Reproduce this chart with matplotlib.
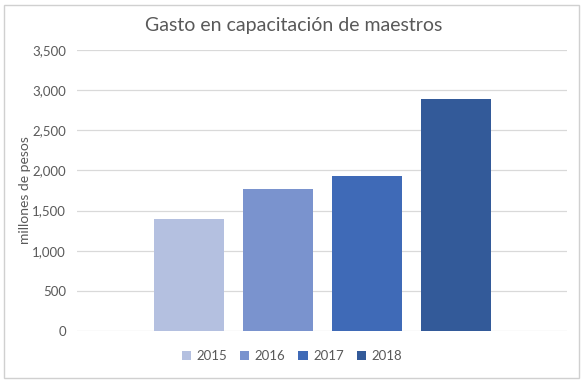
import matplotlib
matplotlib.use("Agg")
import matplotlib.pyplot as plt
from matplotlib.patches import Rectangle, Patch

# datos
years = ["2015", "2016", "2017", "2018"]
gasto = [1400, 1770, 1935, 2890]
colores = ["#B4C0E0", "#7A93CE", "#3F6AB7", "#335A99"]
yticks = [0, 500, 1000, 1500, 2000, 2500, 3000, 3500]

plt.rcParams['font.family'] = ['Lato', 'DejaVu Sans']
txt = "#595959"

fig = plt.figure(figsize=(5.87, 3.82), dpi=100)
ax = fig.add_axes([77/587, 1-331/382, 490/587, 281/382])

pos = list(range(len(years)))
ax.bar(pos, gasto, width=70/89, color=colores, zorder=3)

ax.set_xlim(-1.26, 4.25)
ax.set_ylim(0, 3500)
ax.set_yticks(yticks)
ax.set_yticklabels([f"{v:,}" for v in yticks], color=txt, fontsize=9.5)
ax.set_xticks([])
ax.tick_params(axis='y', length=0, pad=8)
ax.grid(axis='y', color="#D9D9D9", linewidth=0.9, zorder=0)
for s in ax.spines.values():
    s.set_visible(False)

ax.set_ylabel("millones de pesos", color=txt, fontsize=10, labelpad=1)
fig.text(0.5, 1-25/382, "Gasto en capacitación de maestros", ha='center', va='center',
         fontsize=14, color=txt)

handles = [Patch(facecolor=c, label=y) for c, y in zip(colores, years)]
fig.legend(handles=handles, loc='center', bbox_to_anchor=(0.497, 1-356/382), ncol=4,
           frameon=False, fontsize=9.5, handlelength=0.7, handleheight=0.7,
           handletextpad=0.4, columnspacing=1.0, labelcolor=txt)

# marco del gráfico
fig.patches.append(Rectangle((4/587, 4/382), 575/587, 373/382, transform=fig.transFigure,
                             fill=False, edgecolor="#D0D0D0", linewidth=1.0))

fig.savefig("out.png", dpi=100)
